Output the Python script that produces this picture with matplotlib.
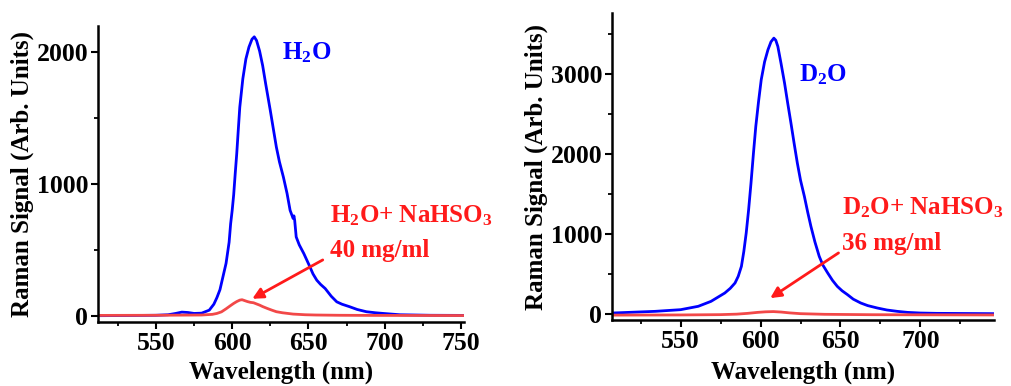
import matplotlib
matplotlib.use("Agg")
import matplotlib.pyplot as plt
from matplotlib.ticker import MultipleLocator

plt.rcParams['font.family'] = ['Liberation Serif', 'DejaVu Serif']
plt.rcParams['font.weight'] = 'bold'
plt.rcParams['mathtext.fontset'] = 'custom'
plt.rcParams['mathtext.rm'] = 'Liberation Serif:bold'
plt.rcParams['mathtext.bf'] = 'Liberation Serif:bold'
plt.rcParams['mathtext.default'] = 'bf'

# H2O panel
h2o_wl = [512, 530, 550, 558, 563, 567, 571, 575, 580, 585, 588, 590, 592, 594, 596, 598,
          599, 600, 601, 602, 603, 604, 605, 607, 609, 611, 613, 614.5, 616, 618, 620,
          622, 625, 627, 629, 631, 633.6, 636, 638, 640, 640.5, 641, 642, 644, 647, 651,
          653, 655.5, 658, 661, 665, 668.6, 672, 677, 682, 688, 694, 699, 710, 730, 752]
h2o_sig = [3, 4, 6, 10, 20, 30, 27, 20, 22, 45, 90, 140, 200, 300, 400, 560,
           700, 800, 920, 1080, 1231, 1410, 1584, 1800, 1950, 2040, 2100, 2118, 2090, 2010, 1900,
           1760, 1560, 1420, 1281, 1170, 1054, 930, 802, 740, 760, 726, 600, 540, 474, 373,
           320, 272, 240, 209, 150, 108, 90, 71, 50, 33, 25, 20, 10, 6, 5]
h2o_salt_wl = [512, 550, 580, 587, 590, 593, 596, 599, 601, 603, 605, 606.5, 608, 610,
               612, 614, 616, 618, 620, 623, 626, 629, 633, 640, 648, 655, 670, 690, 752]
h2o_salt_sig = [5, 6, 8, 13, 20, 32, 55, 80, 96, 110, 121, 124, 118, 110,
                104, 101, 92, 83, 72, 58, 45, 33, 25, 15, 10, 8, 6, 5, 4]

# D2O panel
d2o_wl = [507, 534, 550, 561, 569, 577.6, 581, 584, 586, 588, 589.5, 591, 592.5, 594,
          595.5, 597, 598.7, 600.4, 602.5, 604.6, 606.5, 608.3, 609.5, 610.8, 612.8, 615,
          617, 619, 621, 623, 625, 627.4, 629.5, 631.5, 634, 636.7, 639, 642, 645, 648,
          651, 654.4, 658, 662.7, 667, 673, 679, 685.5, 692, 700, 710, 746]
d2o_sig = [12, 33, 54, 96, 158, 262, 320, 387, 470, 595, 780, 1011, 1300, 1635,
           2000, 2343, 2650, 2926, 3150, 3300, 3400, 3446, 3420, 3342, 3130, 2884,
           2630, 2385, 2130, 1885, 1670, 1469, 1270, 1094, 900, 720, 610, 512, 420, 345,
           290, 241, 185, 137, 105, 75, 50, 33, 20, 12, 8, 4]
d2o_salt_wl = [507, 550, 575, 585, 592, 598, 603, 608, 613, 618, 625, 640, 670, 746]
d2o_salt_sig = [-14, -12, -8, -2, 8, 20, 27, 30, 24, 14, 4, -4, -9, -12]

BLUE = '#0000ff'
RED = '#f24848'
TXT_RED = '#ff1a1a'

fig = plt.figure(figsize=(10.11, 3.86), dpi=100)
ax1 = fig.add_axes([0.0969, 0.1658, 0.362, 0.7668])
ax2 = fig.add_axes([0.6053, 0.171, 0.3778, 0.7953])


def style_axis(ax, xlim, ylim, xmaj, ymaj, xpad):
    ax.set_xlim(*xlim)
    ax.set_ylim(*ylim)
    ax.xaxis.set_major_locator(MultipleLocator(xmaj))
    ax.xaxis.set_minor_locator(MultipleLocator(xmaj / 2))
    ax.yaxis.set_major_locator(MultipleLocator(ymaj))
    ax.yaxis.set_minor_locator(MultipleLocator(ymaj / 2))
    for s in ['top', 'right']:
        ax.spines[s].set_visible(False)
    for s in ['left', 'bottom']:
        ax.spines[s].set_linewidth(1.8)
    ax.tick_params(which='major', direction='out', length=5, width=1.5, labelsize=18.5, pad=2)
    ax.tick_params(which='minor', direction='out', length=3, width=1.3)
    for lab in ax.get_xticklabels() + ax.get_yticklabels():
        lab.set_fontweight('bold')
    ax.set_xlabel('Wavelength (nm)', fontsize=18, fontweight='bold', labelpad=xpad)
    ax.set_ylabel('Raman Signal (Arb. Units)', fontsize=18, fontweight='bold', labelpad=2)


# left panel
ax1.plot(h2o_wl, h2o_sig, color=BLUE, lw=2.0)
ax1.plot(h2o_salt_wl, h2o_salt_sig, color=RED, lw=2.0)
style_axis(ax1, (512, 752), (-45, 2200), 50, 1000, 4)
ax1.text(633, 1995, 'H$_2$O', color=BLUE, fontsize=18, fontweight='bold', va='center')
ax1.text(664, 764, 'H$_2$O+ NaHSO$_3$', color=TXT_RED, fontsize=18, fontweight='bold', va='center')
ax1.text(664, 499, '40 mg/ml', color=TXT_RED, fontsize=18, fontweight='bold', va='center')
ax1.annotate('', xy=(611.6, 121), xytext=(661, 436),
             arrowprops=dict(arrowstyle='-|>', color=TXT_RED, lw=2.0, mutation_scale=16))

# right panel
ax2.plot(d2o_wl, d2o_sig, color=BLUE, lw=2.0)
ax2.plot(d2o_salt_wl, d2o_salt_sig, color=RED, lw=2.0)
style_axis(ax2, (507, 746), (-75, 3760), 50, 1000, 6)
ax2.text(624.3, 2988, 'D$_2$O', color=BLUE, fontsize=18, fontweight='bold', va='center')
ax2.text(651.2, 1323, 'D$_2$O+ NaHSO$_3$', color=TXT_RED, fontsize=18, fontweight='bold', va='center')
ax2.text(651.2, 886, '36 mg/ml', color=TXT_RED, fontsize=18, fontweight='bold', va='center')
ax2.annotate('', xy=(604.6, 179), xytext=(650.2, 782),
             arrowprops=dict(arrowstyle='-|>', color=TXT_RED, lw=2.0, mutation_scale=16))

fig.savefig('out.png', dpi=100)
